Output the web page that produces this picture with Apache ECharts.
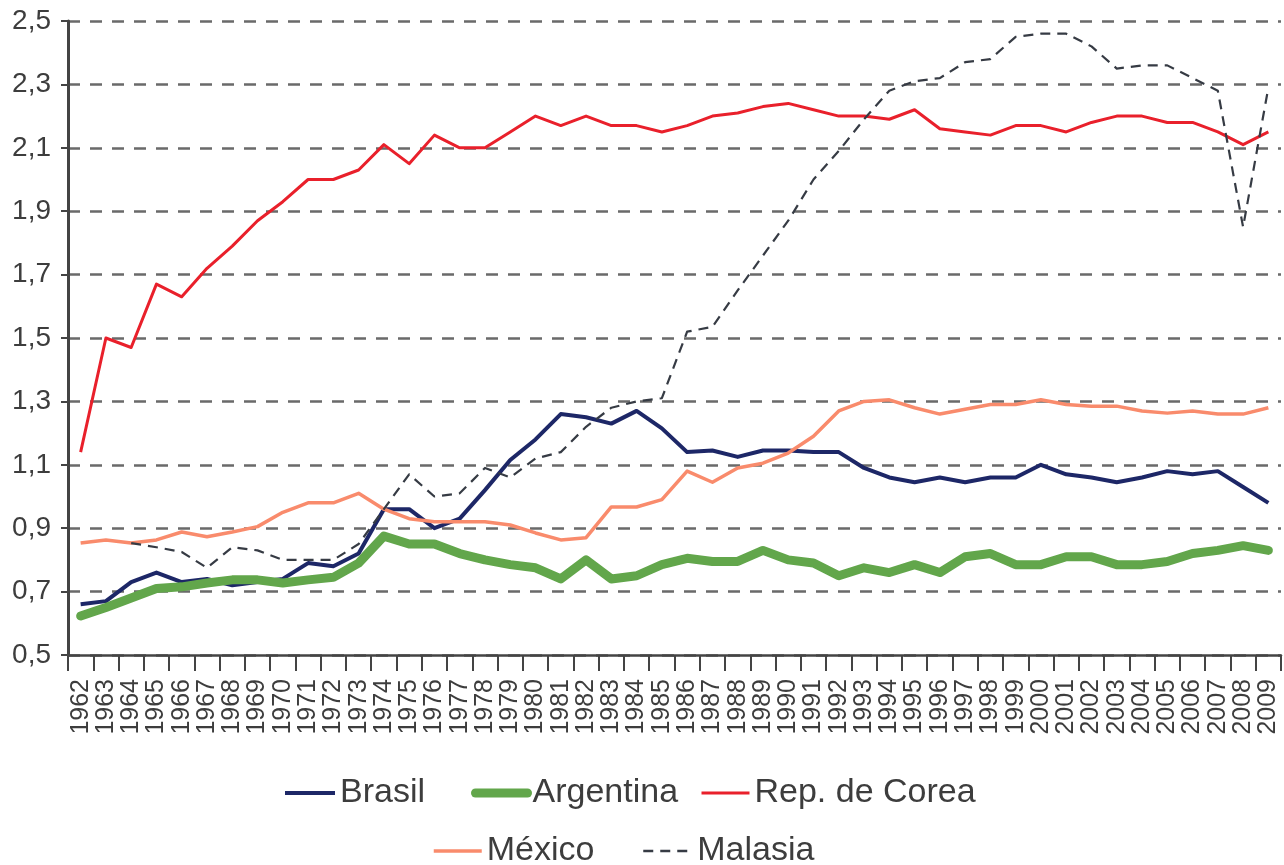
<!DOCTYPE html>
<html>
<head>
<meta charset="utf-8">
<script src="https://cdn.jsdelivr.net/npm/echarts@6/dist/echarts.min.js"></script>
<style>
html,body{margin:0;padding:0;background:#fff;}
#c{width:1284px;height:865px;}
</style>
</head>
<body>
<div id="c"></div>
<script>
const years = [];
for (let y = 1962; y <= 2009; y++) years.push(String(y));

const brasil = [0.66,0.67,0.73,0.76,0.73,0.74,0.72,0.73,0.74,0.79,
  0.78,0.82,0.96,0.96,0.90,0.93,1.02,1.115,1.18,1.26,
  1.25,1.23,1.27,1.215,1.14,1.145,1.125,1.145,1.145,1.14,
  1.14,1.09,1.06,1.045,1.06,1.045,1.06,1.06,1.10,1.07,
  1.06,1.045,1.06,1.08,1.07,1.08,1.03,0.98];

const argentina = [0.623,0.65,0.68,0.71,0.715,0.727,0.737,0.737,0.727,0.737,
  0.745,0.79,0.875,0.85,0.85,0.82,0.80,0.785,0.775,0.74,
  0.80,0.74,0.75,0.785,0.805,0.795,0.795,0.83,0.80,0.79,
  0.75,0.775,0.76,0.785,0.76,0.81,0.82,0.785,0.785,0.81,
  0.81,0.785,0.785,0.795,0.82,0.83,0.845,0.83];

const corea = [1.14,1.50,1.47,1.67,1.63,1.72,1.79,1.87,1.93,2.00,
  2.00,2.03,2.11,2.05,2.14,2.10,2.10,2.15,2.20,2.17,
  2.20,2.17,2.17,2.15,2.17,2.20,2.21,2.23,2.24,2.22,
  2.20,2.20,2.19,2.22,2.16,2.15,2.14,2.17,2.17,2.15,
  2.18,2.20,2.20,2.18,2.18,2.15,2.11,2.15];

const mexico = [0.853,0.863,0.853,0.863,0.888,0.873,0.888,0.905,0.95,0.98,
  0.98,1.01,0.96,0.93,0.92,0.92,0.92,0.91,0.885,0.863,
  0.87,0.967,0.967,0.99,1.08,1.045,1.09,1.105,1.137,1.19,
  1.27,1.30,1.305,1.28,1.26,1.275,1.29,1.29,1.305,1.29,
  1.285,1.285,1.27,1.263,1.27,1.26,1.26,1.28];

const malasia = [null,null,0.853,0.84,0.825,0.775,0.84,0.83,0.80,0.80,
  0.80,0.85,0.96,1.07,1.00,1.01,1.09,1.06,1.12,1.14,
  1.22,1.28,1.30,1.31,1.52,1.535,1.65,1.76,1.87,2.00,
  2.09,2.19,2.28,2.31,2.32,2.37,2.38,2.45,2.46,2.46,
  2.42,2.35,2.36,2.36,2.32,2.28,1.85,2.29];

const seriesNames = ['Brasil','Argentina','Rep. de Corea','México','Malasia'];

const FONT = '"Liberation Sans", Arial, sans-serif';
const TXT = '#3d3d3d';

const styles = {
  'Brasil': {color:'#1d2767', width:4, type:'solid', cap:'butt'},
  'Argentina': {color:'#62a64b', width:9, type:'solid', cap:'round'},
  'Rep. de Corea': {color:'#e9202b', width:3, type:'solid', cap:'butt'},
  'México': {color:'#f98b6c', width:3.5, type:'solid', cap:'butt'},
  'Malasia': {color:'#363b44', width:2.2, type:[10,7], cap:'butt'}
};
const dataMap = {'Brasil':brasil,'Argentina':argentina,'Rep. de Corea':corea,'México':mexico,'Malasia':malasia};

const legendPos = [
  {name:'Brasil', left:283, top:773, w:50},
  {name:'Argentina', left:471, top:773, w:52},
  {name:'Rep. de Corea', left:700, top:773, w:48},
  {name:'México', left:432, top:831, w:48},
  {name:'Malasia', left:642, top:831, w:49}
];

const chart = echarts.init(document.getElementById('c'), null, {renderer:'canvas'});

const option = {
  backgroundColor:'#ffffff',
  animation:false,
  textStyle:{fontFamily:FONT},
  grid:{left:68, right:3, top:21, bottom:210, containLabel:false, outerBoundsMode:'none'},
  legend: legendPos.map(p => ({
    data:[{name:p.name}],
    left:p.left, top:p.top,
    itemWidth:p.w, itemHeight:14,
    padding:0,
    selectedMode:false,
    textStyle:{fontSize:34, color:TXT, fontFamily:FONT, lineHeight:40},
    itemStyle:{opacity:0, borderWidth:0},
    lineStyle:{width:styles[p.name].type === 'solid' ? styles[p.name].width : 2.5,
      type:styles[p.name].type === 'solid' ? 'solid' : [10,7],
      color:styles[p.name].color, cap:styles[p.name].cap, opacity:1}
  })),
  xAxis:{
    type:'category',
    data:years,
    boundaryGap:true,
    axisLine:{show:true, lineStyle:{color:'#444', width:2.5}},
    axisTick:{show:true, length:16, lineStyle:{color:'#444', width:2}},
    axisLabel:{interval:0, rotate:90, fontSize:25, color:TXT, margin:24, fontFamily:FONT},
    splitLine:{show:false}
  },
  yAxis:{
    type:'value',
    min:0.5, max:2.5, interval:0.2,
    axisLine:{show:true, lineStyle:{color:'#444', width:3}},
    axisTick:{show:true, length:7, lineStyle:{color:'#444', width:2}},
    axisLabel:{fontSize:28, color:TXT, margin:17, fontFamily:FONT,
      formatter: v => (Math.round(v*10)/10).toFixed(1).replace('.', ',')},
    splitLine:{show:true, lineStyle:{color:'#6a6a6a', width:2.5, type:[12,10]}}
  },
  series: seriesNames.map(n => ({
    name:n,
    type:'line',
    data:dataMap[n],
    symbol:'none',
    showSymbol:false,
    connectNulls:false,
    lineStyle:{color:styles[n].color, width:styles[n].width, type:styles[n].type, cap:styles[n].cap, join:'round'},
    itemStyle:{color:styles[n].color},
    emphasis:{disabled:true}
  }))
};
chart.setOption(option);
</script>
</body>
</html>
